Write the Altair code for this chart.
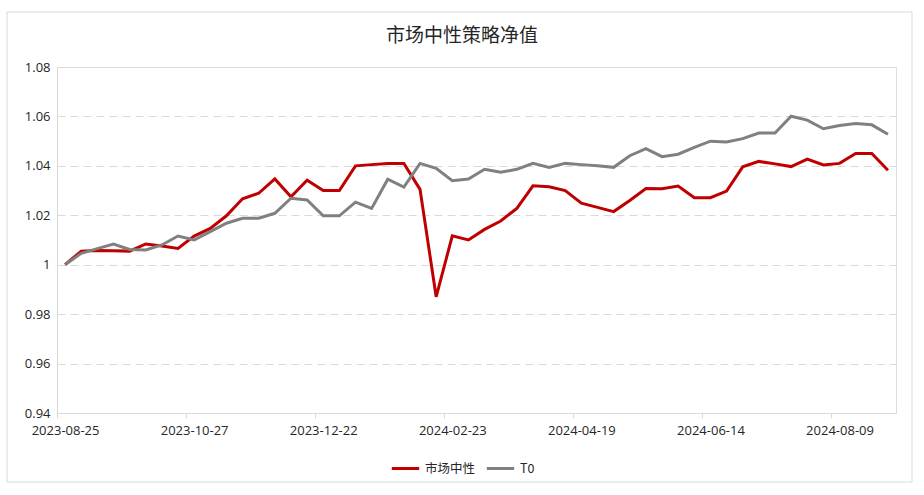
import altair as alt
import pandas as pd

dates = [
    "2023-08-25", "2023-09-01", "2023-09-08", "2023-09-15", "2023-09-22", "2023-09-28",
    "2023-10-13", "2023-10-20", "2023-10-27", "2023-11-03", "2023-11-10", "2023-11-17",
    "2023-11-24", "2023-12-01", "2023-12-08", "2023-12-15", "2023-12-22", "2023-12-29",
    "2024-01-05", "2024-01-12", "2024-01-19", "2024-01-26", "2024-02-02", "2024-02-08",
    "2024-02-23", "2024-03-01", "2024-03-08", "2024-03-15", "2024-03-22", "2024-03-29",
    "2024-04-03", "2024-04-12", "2024-04-19", "2024-04-26", "2024-04-30", "2024-05-10",
    "2024-05-17", "2024-05-24", "2024-05-31", "2024-06-07", "2024-06-14", "2024-06-21",
    "2024-06-28", "2024-07-05", "2024-07-12", "2024-07-19", "2024-07-26", "2024-08-02",
    "2024-08-09", "2024-08-16", "2024-08-23", "2024-08-30",
]

market_neutral = [
    1.0000, 1.0055, 1.0058, 1.0056, 1.0055, 1.0084, 1.0076, 1.0066, 1.0116, 1.0147,
    1.0198, 1.0267, 1.0289, 1.0347, 1.0275, 1.0342, 1.0300, 1.0300, 1.0400, 1.0405,
    1.0410, 1.0410, 1.0305, 0.9870, 1.0117, 1.0100, 1.0143, 1.0177, 1.0228, 1.0319,
    1.0315, 1.0300, 1.0249, 1.0232, 1.0215, 1.0260, 1.0308, 1.0307, 1.0318, 1.0271,
    1.0271, 1.0298, 1.0396, 1.0418, 1.0408, 1.0397, 1.0427, 1.0404, 1.0410, 1.0450,
    1.0450, 1.0382,
]

t0 = [
    1.0000, 1.0046, 1.0065, 1.0084, 1.0062, 1.0060, 1.0080, 1.0116, 1.0100, 1.0134,
    1.0168, 1.0188, 1.0188, 1.0208, 1.0269, 1.0262, 1.0198, 1.0198, 1.0253, 1.0228,
    1.0346, 1.0314, 1.0410, 1.0390, 1.0340, 1.0347, 1.0386, 1.0374, 1.0386, 1.0410,
    1.0394, 1.0410, 1.0405, 1.0400, 1.0394, 1.0441, 1.0470, 1.0437, 1.0447, 1.0475,
    1.0500, 1.0497, 1.0510, 1.0533, 1.0533, 1.0601, 1.0585, 1.0550, 1.0563, 1.0571,
    1.0566, 1.0528,
]

series_names = ["市场中性", "T0"]
series_colors = ["#C00000", "#808080"]
y_ticks = [0.94, 0.96, 0.98, 1.00, 1.02, 1.04, 1.06, 1.08]
chart_title = "市场中性策略净值"

rows = []
for name, vals in zip(series_names, [market_neutral, t0]):
    for d, v in zip(dates, vals):
        rows.append({"date": d, "value": v, "series": name})
df = pd.DataFrame(rows)

W, H = 839, 346
step = W / len(dates)
CJK = "Noto Sans CJK SC"
LATIN = "Open Sans"

lines = alt.Chart(df).mark_line(strokeWidth=3).encode(
    x=alt.X(
        "date:O",
        sort=dates,
        scale=alt.Scale(type="point", padding=0.5),
        axis=alt.Axis(
            title=None,
            values=dates[::8],
            labelAngle=0,
            tickOffset=-step / 2,
            labelOffset=step / 2,
            ticks=True,
            tickSize=5,
            tickColor="#d9d9d9",
            domainColor="#d9d9d9",
            labelPadding=6,
            grid=False,
            labelFont=LATIN,
            labelFontSize=13,
            labelColor="#262626",
        ),
    ),
    y=alt.Y(
        "value:Q",
        scale=alt.Scale(domain=[0.94, 1.08], nice=False, zero=False),
        axis=alt.Axis(
            title=None,
            values=y_ticks,
            format=".2~f",
            ticks=False,
            domainColor="#d9d9d9",
            grid=True,
            gridColor="#d9d9d9",
            gridDash=[8, 5],
            labelPadding=7,
            labelFont=LATIN,
            labelFontSize=13,
            labelColor="#262626",
        ),
    ),
    color=alt.Color(
        "series:N",
        sort=series_names,
        scale=alt.Scale(domain=series_names, range=series_colors),
        legend=alt.Legend(
            title=None,
            orient="none",
            legendX=333,
            legendY=386,
            direction="horizontal",
            symbolType="stroke",
            symbolSize=750,
            symbolStrokeWidth=3,
            labelFontSize=12.5,
            labelFont=CJK,
            labelColor="#262626",
            columnPadding=4,
            labelOffset=4,
        ),
    ),
)

frame = alt.Chart(pd.DataFrame({"a": [0]})).mark_rect(
    fill=None, stroke="#d9d9d9", strokeWidth=1
).encode(
    x=alt.value(-50), x2=alt.value(855), y=alt.value(-55), y2=alt.value(415)
)

title = alt.Chart(pd.DataFrame({"t": [chart_title]})).mark_text(
    font=CJK, fontSize=19, color="#262626", align="center", baseline="middle"
).encode(
    text="t:N", x=alt.value(405), y=alt.value(-31)
)

chart = alt.layer(frame, title, lines).properties(
    width=W,
    height=H,
    autosize=alt.AutoSizeParams(type="none"),
    padding={"left": 57, "top": 67, "right": 28, "bottom": 82},
).configure_view(stroke=None).configure(background="white")

chart.save("out.html", embed_options={"renderer": "svg", "actions": False})
